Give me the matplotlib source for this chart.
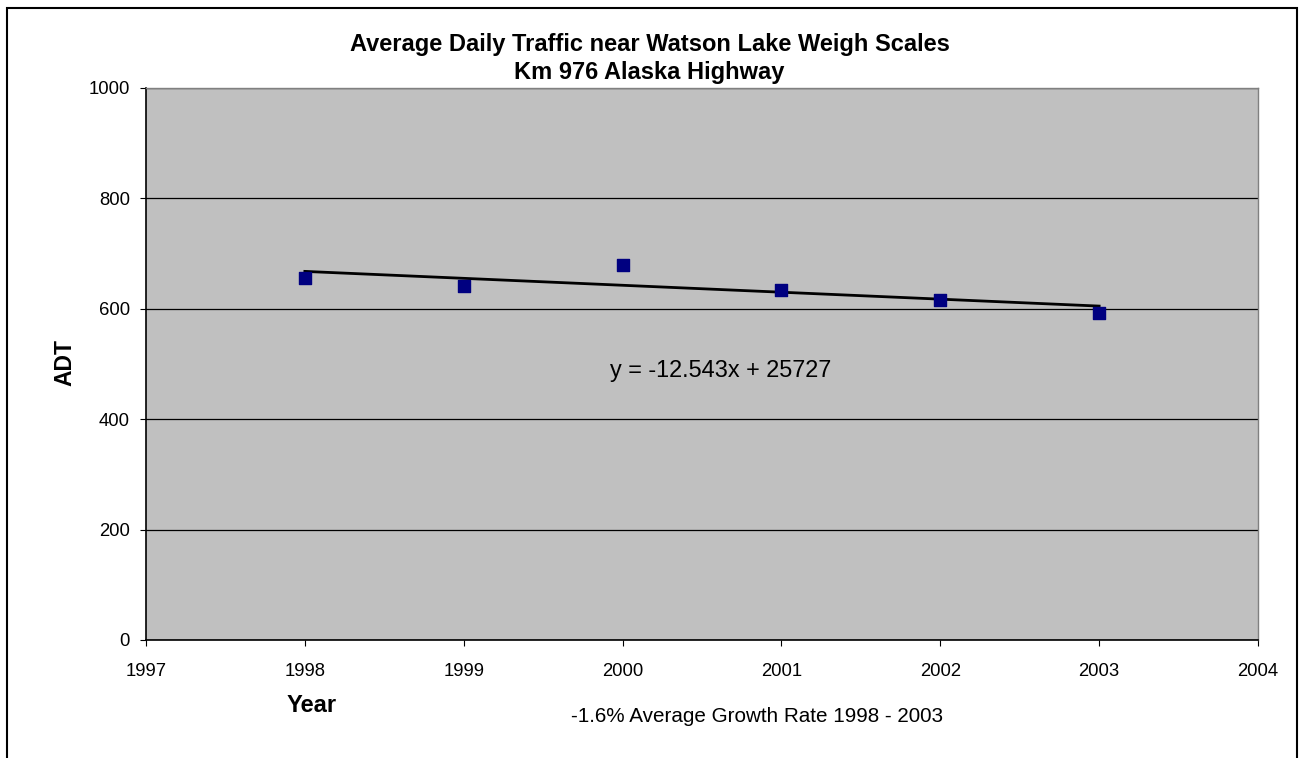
import numpy as np
import matplotlib.pyplot as plt
from matplotlib.patches import Rectangle

plt.rcParams['font.family'] = ['Liberation Sans', 'DejaVu Sans']

# Data
years = [1998, 1999, 2000, 2001, 2002, 2003]
adt = [656, 641, 679, 634, 616, 592]
x_ticks = [1997, 1998, 1999, 2000, 2001, 2002, 2003, 2004]
y_ticks = [0, 200, 400, 600, 800, 1000]

W, H = 1299, 758
fig = plt.figure(figsize=(W / 100, H / 100), dpi=100)

# outer chart frame
fig.patches.append(Rectangle((7 / W, -0.01), (1297 - 7) / W, 1 - 8 / H + 0.01,
                             transform=fig.transFigure, fill=False,
                             edgecolor='black', linewidth=1.5))

ax = fig.add_axes([146 / W, 1 - 640 / H, (1258 - 146) / W, (640 - 88) / H])
ax.set_facecolor('#c0c0c0')
ax.set_xlim(1997, 2004)
ax.set_ylim(0, 1000)
ax.set_xticks(x_ticks)
ax.set_yticks(y_ticks)
ax.tick_params(labelsize=13.3, direction='out', length=4.5, pad=12)
ax.tick_params(axis='y', pad=7)
ax.grid(axis='y', color='black', linewidth=0.9)
ax.set_axisbelow(True)
for side in ['top', 'right']:
    ax.spines[side].set_color('#808080')
    ax.spines[side].set_linewidth(1)
for side in ['left', 'bottom']:
    ax.spines[side].set_linewidth(1.2)

ax.scatter(years, adt, marker='s', s=75, color='#000080', zorder=3)

slope, icpt = np.polyfit(years, adt, 1)
xs = np.array([years[0], years[-1]])
ax.plot(xs, slope * xs + icpt, color='black', linewidth=2, zorder=2)

ax.text(2000.62, 488, 'y = -12.543x + 25727', fontsize=16.9, ha='center', va='center')

fig.text(0.5, 1 - 45 / H, 'Average Daily Traffic near Watson Lake Weigh Scales',
         fontsize=17, fontweight='bold', ha='center', va='center')
fig.text(0.5, 1 - 72 / H, 'Km 976 Alaska Highway',
         fontsize=17, fontweight='bold', ha='center', va='center')
fig.text(65 / W, 1 - 363 / H, 'ADT', fontsize=16.5, fontweight='bold',
         rotation=90, ha='center', va='center')
fig.text(312 / W, 1 - 706 / H, 'Year', fontsize=17, fontweight='bold',
         ha='center', va='center')
fig.text(757 / W, 1 - 717 / H, '-1.6% Average Growth Rate 1998 - 2003',
         fontsize=14.9, ha='center', va='center')

fig.savefig('out.png', dpi=100, facecolor='white')
